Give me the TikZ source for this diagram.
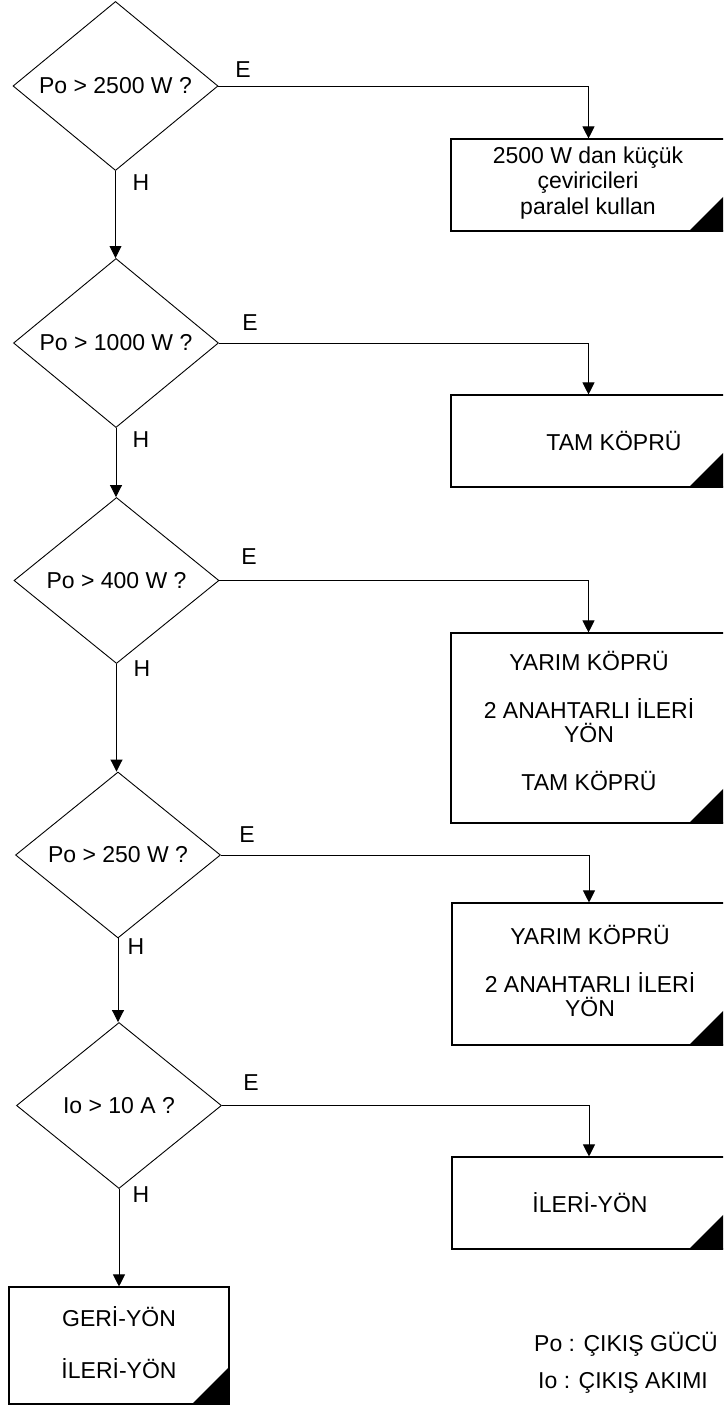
\documentclass[tikz,border=0pt]{standalone}
\usepackage{fontspec}
\setmainfont{Liberation Sans}
\usetikzlibrary{shapes.geometric,arrows.meta}
\begin{document}
\begin{tikzpicture}[x=1pt,y=-1pt,
  dec/.style={diamond, draw, line width=0.9pt, minimum width=205pt, minimum height=166pt, inner sep=0pt, font=\fontsize{23}{26}\selectfont},
  outbox/.style={rectangle, draw, line width=1.1pt, inner sep=0pt},
  txt/.style={align=center, font=\fontsize{23}{24}\selectfont, inner sep=0pt},
  lbl/.style={font=\fontsize{23}{24}\selectfont, inner sep=0pt},
  arr/.style={line width=0.9pt, -{Triangle[length=12pt,width=12pt]}},
  corner/.style={fill=black}]
\useasboundingbox (0,0) rectangle (723,1405);
\clip (0,0) rectangle (723,1405);

% decisions
\node[dec] (D1) at (115.5,86) {Po > 2500 W ?};
\node[dec] (D2) at (116,343) {Po > 1000 W ?};
\node[dec] (D3) at (116.5,580.5) {Po > 400 W ?};
\node[dec] (D4) at (118,855) {Po > 250 W ?};
\node[dec] (D5) at (119,1105.5) {Io > 10 A ?};

% boxes
\node[outbox, minimum width=275pt, minimum height=92pt] (B1) at (588.5,185) {};
\node[outbox, minimum width=275pt, minimum height=92pt] (B2) at (588.5,441) {};
\node[outbox, minimum width=275pt, minimum height=190pt] (B3) at (588.5,728) {};
\node[outbox, minimum width=274pt, minimum height=142pt] (B4) at (589,974) {};
\node[outbox, minimum width=274pt, minimum height=92pt] (B5) at (589,1203) {};
\node[outbox, minimum width=220pt, minimum height=117pt] (BX) at (119,1345.5) {};

% corner marks
\foreach \b in {B1,B2,B3,B4,B5,BX}{
  \fill[corner] (\b.south east) -- ++(-38,0) -- ++(38,-38) -- cycle;
}

% box texts
\node[txt, font=\fontsize{23}{25.5}\selectfont] (T1) at (588,183) {2500 W dan küçük\\çeviricileri\\paralel kullan};
\node[txt] (T2) at (614,441) {TAM KÖPRÜ};
\node[txt] (T3) at (589,721) {YARIM KÖPRÜ\\[24pt]2 ANAHTARLI İLERİ\\YÖN\\[24pt]TAM KÖPRÜ};
\node[txt] (T4) at (590,971) {YARIM KÖPRÜ\\[24pt]2 ANAHTARLI İLERİ\\YÖN};
\node[txt] (T5) at (590,1203) {İLERİ-YÖN};
\node[txt] (TX) at (119,1343) {GERİ-YÖN\\[28pt]İLERİ-YÖN};

% legend
\node[lbl] (L1) at (626,1344) {Po : ÇIKIŞ GÜCÜ};
\node[lbl] (L2) at (623,1383) {Io : ÇIKIŞ AKIMI};

% connectors
\draw[arr] (D1.south) -- (D1.south |- D2.north);
\draw[arr] (D2.south) -- (D2.south |- D3.north);
\draw[arr] (D3.south) -- (D3.south |- D4.north);
\draw[arr] (D4.south) -- (D4.south |- D5.north);
\draw[arr] (D5.south) -- (D5.south |- BX.north);
\draw[arr] (D1.east) -| (B1.north);
\draw[arr] (D2.east) -| (B2.north);
\draw[arr] (D3.east) -| (B3.north);
\draw[arr] (D4.east) -| (B4.north);
\draw[arr] (D5.east) -| (B5.north);

% E / H labels
\node[lbl] (E1) at (243,70) {E};
\node[lbl] (E2) at (250,323) {E};
\node[lbl] (E3) at (249,557) {E};
\node[lbl] (E4) at (247,835) {E};
\node[lbl] (E5) at (251,1083) {E};
\node[lbl] (H1) at (141,183) {H};
\node[lbl] (H2) at (141,440) {H};
\node[lbl] (H3) at (142,669) {H};
\node[lbl] (H4) at (136,947) {H};
\node[lbl] (H5) at (141,1195) {H};
\end{tikzpicture}
\end{document}
